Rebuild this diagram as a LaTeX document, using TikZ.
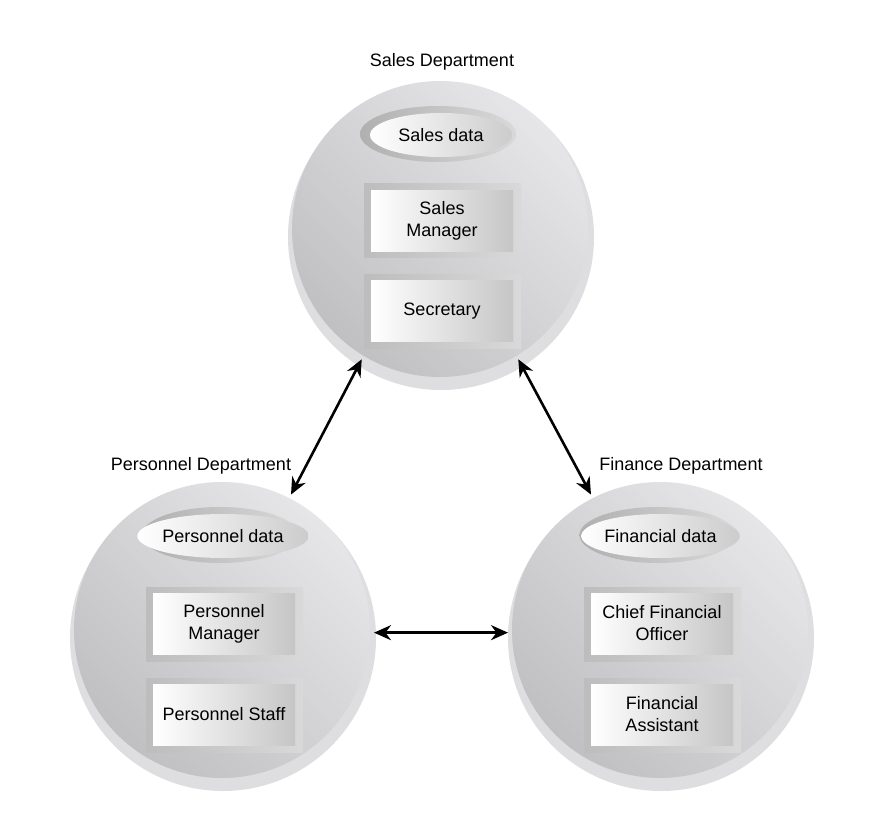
\documentclass[tikz,border=0pt]{standalone}
\usepackage{fontspec}
\setmainfont{Liberation Sans}
\usetikzlibrary{shapes.geometric,arrows.meta}
\definecolor{rimc}{HTML}{DEDEE0}
\definecolor{disklight}{HTML}{E6E6E8}
\definecolor{diskdark}{HTML}{C0C0C3}
\tikzset{
  rim/.style={fill=rimc},
  dept/.style={circle, minimum size=296pt, inner sep=0pt, outer sep=4pt,
    top color=disklight, bottom color=diskdark, shading angle=-45},
  dbouter/.style={ellipse, minimum width=156pt, minimum height=56pt, inner sep=0pt,
    left color=gray!62, right color=gray!30},
  dbinner/.style={ellipse, minimum width=142pt, minimum height=44pt, inner sep=0pt,
    left color=white, right color=gray!40, font=\fontsize{18}{22}\selectfont},
  boxouter/.style={rectangle, minimum width=157pt, minimum height=74pt, inner sep=0pt,
    left color=gray!52, right color=gray!30},
  boxinner/.style={rectangle, minimum width=142pt, minimum height=61pt, inner sep=0pt,
    left color=white, right color=gray!45, align=center, font=\fontsize{18}{22}\selectfont},
  lbl/.style={font=\fontsize{18}{22}\selectfont, inner sep=0pt},
  arr/.style={line width=2.6pt, {Stealth[length=17pt,width=15pt]}-{Stealth[length=17pt,width=15pt]}},
}
\begin{document}
\begin{tikzpicture}[x=1pt,y=-1pt]
\useasboundingbox (0,0) rectangle (877,829);
\fill[white] (0,0) rectangle (877,829);
% rims
\fill[rim] (441,237) circle[radius=153pt];
\fill[rim] (223,638) circle[radius=153pt];
\fill[rim] (661,638) circle[radius=153pt];
% department disks
\node[dept] (sales) at (440,229) {};
\node[dept] (pers) at (222,630) {};
\node[dept] (fin) at (660,630) {};
% labels
\node[lbl] (salesl) at (442,62) {Sales Department};
\node[lbl] (persl) at (201,466) {Personnel Department};
\node[lbl] (finl) at (681,466) {Finance Department};
% sales content
\node[dbouter] (sdo) at (438,134) {};
\node[dbinner] (sd) at (441,135) {Sales data};
\node[boxouter] (smo) at (442.5,220) {};
\node[boxinner] (sm) at (442,220.5) {Sales\\Manager};
\node[boxouter] (seco) at (442.5,311.5) {};
\node[boxinner] (sec) at (442,311) {Secretary};
% personnel content
\node[dbouter] (pdo) at (220,535) {};
\node[dbinner] (pd) at (223,536) {Personnel data};
\node[boxouter] (pmo) at (224.5,624) {};
\node[boxinner] (pm) at (224,623.5) {Personnel\\Manager};
\node[boxouter] (pso) at (224.5,715) {};
\node[boxinner] (ps) at (224,714.5) {Personnel Staff};
% finance content
\node[dbouter] (fdo) at (657.5,535) {};
\node[dbinner] (fd) at (660.5,536) {Financial data};
\node[boxouter] (cfoo) at (662.5,624) {};
\node[boxinner] (cfo) at (662,623.5) {Chief Financial\\Officer};
\node[boxouter] (fao) at (662.5,715) {};
\node[boxinner] (fa) at (662,714.5) {Financial\\Assistant};
% connectors
\draw[arr] (sales.239) -- (pers.63);
\draw[arr] (sales.301) -- (fin.117);
\draw[arr] (pers.-1.5) -- (fin.181.5);
\end{tikzpicture}
\end{document}
